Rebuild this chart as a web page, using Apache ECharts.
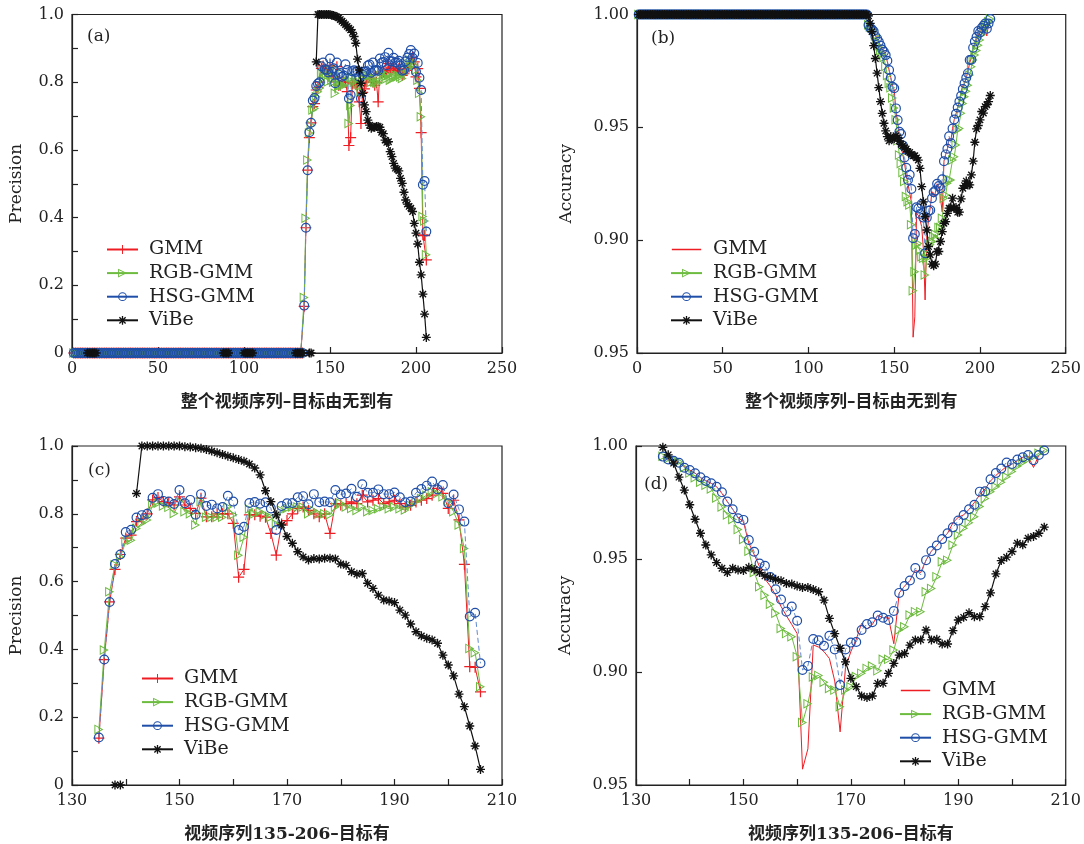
<!DOCTYPE html>
<html><head><meta charset="utf-8">
<script src="https://cdn.jsdelivr.net/npm/echarts/dist/echarts.min.js"></script>
<style>html,body{margin:0;padding:0;background:#fff}#c{width:1084px;height:844px}</style>
</head><body><div id="c"></div><script>
// ---------- data ----------
const seriesNames = ['GMM', 'RGB-GMM', 'HSG-GMM', 'ViBe'];
const framesZoom = [];            // frames 135..206 (target present)
for (let f = 135; f <= 206; f++) framesZoom.push(f);
const earlyFrames = [];           // frames 1..134 (no target)
for (let f = 1; f <= 134; f++) earlyFrames.push(f);
const earlyPrecision = 0;         // GMM / RGB-GMM / HSG-GMM precision before the target appears
const earlyAccuracy = 1.0;        // all methods: accuracy before the target appears
const vibeEarlyZeroFrames = [9,10,11,12,13,14,88,89,90,91,100,101,102,103,104,105,130,131,132,133,134];

const precGMM = [0.138,0.37,0.54,0.636,0.68,0.728,0.737,0.777,0.785,0.80,0.841,0.848,0.836,0.833,0.826,0.85,0.826,0.816,0.801,0.846,
  0.791,0.791,0.80,0.80,0.80,0.772,0.613,0.636,0.797,0.797,0.793,0.79,0.742,0.678,0.77,0.78,0.80,0.816,0.82,0.81,
  0.80,0.791,0.80,0.742,0.83,0.826,0.83,0.835,0.83,0.855,0.835,0.84,0.845,0.83,0.835,0.84,0.83,0.82,0.825,0.835,
  0.84,0.845,0.855,0.875,0.86,0.816,0.84,0.782,0.651,0.349,0.347,0.275];
const precRGB = [0.164,0.398,0.57,0.65,0.673,0.718,0.722,0.757,0.772,0.782,0.826,0.831,0.823,0.819,0.801,0.836,0.806,0.80,0.767,0.836,
  0.79,0.79,0.79,0.79,0.82,0.797,0.678,0.731,0.814,0.80,0.806,0.797,0.79,0.77,0.81,0.816,0.82,0.82,0.82,0.80,
  0.81,0.80,0.80,0.797,0.82,0.831,0.82,0.816,0.81,0.82,0.806,0.81,0.815,0.821,0.815,0.82,0.815,0.811,0.825,0.836,
  0.845,0.855,0.865,0.86,0.85,0.836,0.806,0.767,0.698,0.403,0.39,0.29];
const precHSG = [0.14,0.37,0.54,0.652,0.68,0.746,0.753,0.789,0.796,0.80,0.847,0.858,0.838,0.836,0.829,0.870,0.831,0.841,0.797,0.858,
  0.823,0.827,0.816,0.82,0.853,0.836,0.752,0.762,0.832,0.835,0.83,0.834,0.816,0.752,0.823,0.831,0.832,0.849,0.852,0.828,
  0.858,0.834,0.836,0.834,0.870,0.857,0.86,0.874,0.85,0.887,0.862,0.862,0.872,0.858,0.858,0.863,0.849,0.834,0.836,0.862,
  0.873,0.883,0.895,0.872,0.885,0.831,0.857,0.813,0.777,0.497,0.508,0.359];
const precViBe = [null,null,null,0,0,null,null,0.86,1.0,1.0,1.0,1.0,1.0,1.0,1.0,1.0,0.998,0.997,0.995,0.993,
  0.99,0.985,0.98,0.975,0.97,0.965,0.96,0.955,0.947,0.935,0.915,0.868,0.836,0.797,0.767,0.733,0.713,0.688,0.673,0.664,
  0.668,0.667,0.669,0.669,0.667,0.652,0.648,0.629,0.622,0.624,0.595,0.58,0.56,0.546,0.543,0.538,0.516,0.501,0.475,0.452,
  0.44,0.433,0.428,0.418,0.383,0.354,0.322,0.268,0.231,0.174,0.115,0.046];

const accGMM = [0.9953,0.994,0.9935,0.9926,0.991,0.9894,0.988,0.986,0.9847,0.9835,0.982,0.979,0.9754,0.972,0.9684,0.9665,0.957,0.952,0.9466,0.9412,
  0.938,0.934,0.929,0.9249,0.921,0.917,0.857,0.866,0.912,0.911,0.909,0.906,0.896,0.8735,0.902,0.909,0.9145,0.9215,0.919,0.921,
  0.925,0.924,0.924,0.9125,0.935,0.938,0.9405,0.945,0.944,0.9495,0.9535,0.956,0.9588,0.9614,0.966,0.9685,0.9695,0.972,0.975,0.9785,
  0.981,0.9845,0.987,0.989,0.991,0.992,0.9935,0.995,0.9955,0.9905,0.996,0.998];
const accRGB = [0.9955,0.9945,0.994,0.993,0.9905,0.988,0.986,0.984,0.9826,0.981,0.977,0.973,0.9695,0.9675,0.963,0.9586,0.9534,0.944,0.9377,0.934,
  0.930,0.926,0.9193,0.917,0.9156,0.9068,0.8776,0.886,0.8978,0.8985,0.8955,0.8927,0.892,0.8846,0.892,0.8935,0.898,0.8995,0.9016,0.9026,
  0.9005,0.9056,0.9056,0.9097,0.9186,0.920,0.9252,0.9267,0.9267,0.9355,0.937,0.9422,0.9488,0.9495,0.9562,0.9606,0.9636,0.966,0.9687,0.9732,
  0.9768,0.9798,0.982,0.984,0.9864,0.9887,0.991,0.9927,0.9942,0.9953,0.9968,0.998];
const accHSG = [0.9953,0.994,0.9935,0.9926,0.9904,0.9894,0.9879,0.9862,0.9845,0.9835,0.982,0.9795,0.9754,0.972,0.968,0.9673,0.9584,0.9532,0.948,0.947,
  0.942,0.9366,0.9321,0.9267,0.929,0.9227,0.9009,0.9027,0.9146,0.914,0.9116,0.916,0.910,0.8942,0.910,0.913,0.9133,0.9186,0.9212,0.922,
  0.925,0.924,0.923,0.927,0.935,0.938,0.9405,0.946,0.943,0.9495,0.9535,0.956,0.9588,0.9614,0.964,0.967,0.9695,0.972,0.974,0.9798,
  0.980,0.9853,0.988,0.990,0.9927,0.992,0.994,0.995,0.996,0.9937,0.996,0.998];
const accViBe = [0.9994,0.9961,0.9924,0.9862,0.9805,0.974,0.9676,0.9614,0.9562,0.9518,0.9484,0.9459,0.944,0.9459,0.9451,0.9449,0.9463,0.9454,0.944,0.9425,
  0.9419,0.941,0.9404,0.9392,0.9389,0.938,0.9374,0.9374,0.9365,0.9355,0.9318,0.9237,0.917,0.9105,0.9045,0.8972,0.8935,0.8894,0.8887,0.8894,
  0.895,0.895,0.8994,0.9038,0.9075,0.9082,0.9119,0.9142,0.9142,0.9186,0.9142,0.9145,0.9124,0.9124,0.9183,0.923,0.9242,0.9262,0.9245,0.9245,
  0.9289,0.935,0.9434,0.9493,0.9508,0.9533,0.957,0.9563,0.9592,0.96,0.9614,0.9641];

const precTickValues = [0, 0.2, 0.4, 0.6, 0.8, 1.0];
const precTickLabels = ['0', '0.2', '0.4', '0.6', '0.8', '1.0'];
const accTickValues = [0.85, 0.90, 0.95, 1.00];
const accTickLabels = ['0.95', '0.90', '0.95', '1.00'];
const fullTickValues = [0, 50, 100, 150, 200, 250];
const zoomTickValues = [130, 150, 170, 190, 210];

const xNameFull = '整个视频序列–目标由无到有';
const xNameZoom = '视频序列135-206–目标有';
const panelLetters = ['(a)', '(b)', '(c)', '(d)'];

// ---------- styling ----------
const SERIF = 'DejaVu Serif';
const RED = '#ee1d23', GREEN = '#6dbb3f', BLUE = '#1f4ea8', BLUE_LINE = '#5f8ad0', BLACK = '#111';
const PLUS = 'path://M-1.1,-10 L1.1,-10 L1.1,-1.1 L10,-1.1 L10,1.1 L1.1,1.1 L1.1,10 L-1.1,10 L-1.1,1.1 L-10,1.1 L-10,-1.1 L-1.1,-1.1 Z';
const RING = 'path://M10,0 A10,10 0 1,1 -10,0 A10,10 0 1,1 10,0 Z M7.6,0 A7.6,7.6 0 1,0 -7.6,0 A7.6,7.6 0 1,0 7.6,0 Z';
const TRI = 'path://M-8,-10 L10,0 L-8,10 Z M-6,-6.6 L-6,6.6 L5.88,0 Z';
const STAR = 'path://M-1.5,-10 L1.5,-10 L1.5,10 L-1.5,10 Z M-10,-1.5 L10,-1.5 L10,1.5 L-10,1.5 Z ' +
  'M6.01,-8.13 L8.13,-6.01 L-6.01,8.13 L-8.13,6.01 Z M8.13,6.01 L6.01,8.13 L-8.13,-6.01 L-6.01,-8.13 Z';
// legend icon: a thin horizontal line only (tiny invisible corner points keep the box height)
const LINE_ICON = 'path://M0,0 L0.01,0 L0,0.01 Z M0,5.2 L32,5.2 L32,6.8 L0,6.8 Z M0,11.99 L0.01,12 L0,12 Z';

function pairs(xs, ys) { return xs.map((x, i) => [x, ys[i]]); }
function fullPairs(earlyVal, ys) { return earlyFrames.map(f => [f, earlyVal]).concat(pairs(framesZoom, ys)); }
function vibeFullPrec() {
  return earlyFrames.map(f => [f, vibeEarlyZeroFrames.indexOf(f) >= 0 ? 0 : null]).concat(pairs(framesZoom, precViBe));
}

const grids = [
  { left: 72, top: 14.5, width: 430, height: 338.5 },
  { left: 637, top: 14.5, width: 430, height: 338.5 },
  { left: 72, top: 446, width: 430, height: 339 },
  { left: 636, top: 446, width: 430, height: 339 }
].map(g => Object.assign(g, { show: true, borderColor: '#222', borderWidth: 1.2, backgroundColor: 'transparent' }));

const axisCommon = {
  axisLine: { show: true, onZero: false, lineStyle: { color: '#222', width: 1.2 } },
  axisTick: { show: true, inside: true, length: 6, lineStyle: { color: '#222', width: 1.2 } },
  splitLine: { show: false },
  axisLabel: { fontFamily: SERIF, fontSize: 16, color: '#222', margin: 8 }
};
function labelFrom(values, labels) {
  return v => { for (let i = 0; i < values.length; i++) if (Math.abs(v - values[i]) < 1e-6) return labels[i]; return ''; };
}
function xAx(i, min, max, interval, tickVals, name) {
  return Object.assign({}, axisCommon, {
    gridIndex: i, type: 'value', min, max, interval,
    axisLabel: Object.assign({}, axisCommon.axisLabel, { formatter: labelFrom(tickVals, tickVals.map(String)) }),
    name, nameLocation: 'middle', nameGap: 41,
    nameTextStyle: { fontFamily: SERIF + ', Noto Sans CJK SC', fontSize: 17, fontWeight: 'bold', color: '#222' }
  });
}
function yAx(i, min, max, interval, tickVals, tickLabels, name, gap) {
  return Object.assign({}, axisCommon, {
    gridIndex: i, type: 'value', min, max, interval,
    axisLabel: Object.assign({}, axisCommon.axisLabel, { formatter: labelFrom(tickVals, tickLabels) }),
    name, nameLocation: 'middle', nameGap: gap,
    nameTextStyle: { fontFamily: SERIF, fontSize: 17, color: '#222' }
  });
}

function mk(name, axis, data, kind, noMarker) {
  const base = { name, type: 'line', xAxisIndex: axis, yAxisIndex: axis, data, animation: false,
    showAllSymbol: true, connectNulls: false };
  if (kind === 0) return Object.assign(base, { symbol: noMarker ? 'none' : PLUS, symbolSize: 11, itemStyle: { color: RED }, lineStyle: { color: RED, width: 1 }, z: 2 });
  if (kind === 1) return Object.assign(base, { symbol: TRI, symbolSize: [9, 10], itemStyle: { color: GREEN }, lineStyle: { color: GREEN, width: 1 }, z: 3 });
  if (kind === 2) return Object.assign(base, { symbol: RING, symbolSize: 10, itemStyle: { color: BLUE }, lineStyle: { color: BLUE_LINE, width: 1, type: [5, 3] }, z: 4 });
  return Object.assign(base, { symbol: STAR, symbolSize: 9, itemStyle: { color: BLACK }, lineStyle: { color: BLACK, width: 1.2 }, z: 5 });
}

const series = [
  mk('GMM', 0, fullPairs(earlyPrecision, precGMM), 0),
  mk('RGB-GMM', 0, fullPairs(earlyPrecision, precRGB), 1),
  mk('HSG-GMM', 0, fullPairs(earlyPrecision, precHSG), 2),
  mk('ViBe', 0, vibeFullPrec(), 3),
  mk('GMM ', 1, fullPairs(earlyAccuracy, accGMM), 0, true),
  mk('RGB-GMM', 1, fullPairs(earlyAccuracy, accRGB), 1),
  mk('HSG-GMM', 1, fullPairs(earlyAccuracy, accHSG), 2),
  mk('ViBe', 1, fullPairs(earlyAccuracy, accViBe), 3),
  mk('GMM', 2, pairs(framesZoom, precGMM), 0),
  mk('RGB-GMM', 2, pairs(framesZoom, precRGB), 1),
  mk('HSG-GMM', 2, pairs(framesZoom, precHSG), 2),
  mk('ViBe', 2, pairs(framesZoom, precViBe), 3),
  mk('GMM ', 3, pairs(framesZoom, accGMM), 0, true),
  mk('RGB-GMM', 3, pairs(framesZoom, accRGB), 1),
  mk('HSG-GMM', 3, pairs(framesZoom, accHSG), 2),
  mk('ViBe', 3, pairs(framesZoom, accViBe), 3)
];

function legend(left, top, lineOnlyGMM) {
  const gmm = lineOnlyGMM ? { name: 'GMM ', icon: LINE_ICON, itemStyle: { color: RED, opacity: 1 } } : { name: 'GMM' };
  return {
    orient: 'vertical', left, top, padding: 0, itemWidth: 31, itemHeight: 11, itemGap: 4.6,
    textStyle: { fontFamily: SERIF, fontSize: 19, color: '#222', lineHeight: 18, padding: [0, 0, 0, 6] },
    formatter: n => n.trim(),
    selectedMode: false,
    data: [gmm, { name: 'RGB-GMM' }, { name: 'HSG-GMM', lineStyle: { type: 'solid', color: BLUE } }, { name: 'ViBe' }]
  };
}

const titles = [[87, 28], [651, 30], [88, 462], [644, 476]].map((p, i) => ({
  text: panelLetters[i], left: p[0], top: p[1], padding: 0,
  textStyle: { fontFamily: SERIF, fontSize: 17, fontWeight: 'normal', color: '#222' }
}));

const option = {
  backgroundColor: '#fff',
  animation: false,
  title: titles,
  grid: grids,
  legend: [legend(106, 240, false), legend(670, 240, true), legend(141, 669, false), legend(899, 681, true)],
  xAxis: [
    xAx(0, 0, 250, 50, fullTickValues, xNameFull),
    xAx(1, 0, 250, 50, fullTickValues, xNameFull),
    xAx(2, 130, 210, 10, zoomTickValues, xNameZoom),
    xAx(3, 130, 210, 10, zoomTickValues, xNameZoom)
  ],
  yAxis: [
    yAx(0, 0, 1, 0.1, precTickValues, precTickLabels, 'Precision', 47),
    yAx(1, 0.85, 1.0, 0.05, accTickValues, accTickLabels, 'Accuracy', 62),
    yAx(2, 0, 1, 0.1, precTickValues, precTickLabels, 'Precision', 47),
    yAx(3, 0.85, 1.0, 0.05, accTickValues, accTickLabels, 'Accuracy', 62)
  ],
  series
};
const chart = echarts.init(document.getElementById('c'), null, { renderer: 'canvas' });
chart.setOption(option);
</script></body></html>
